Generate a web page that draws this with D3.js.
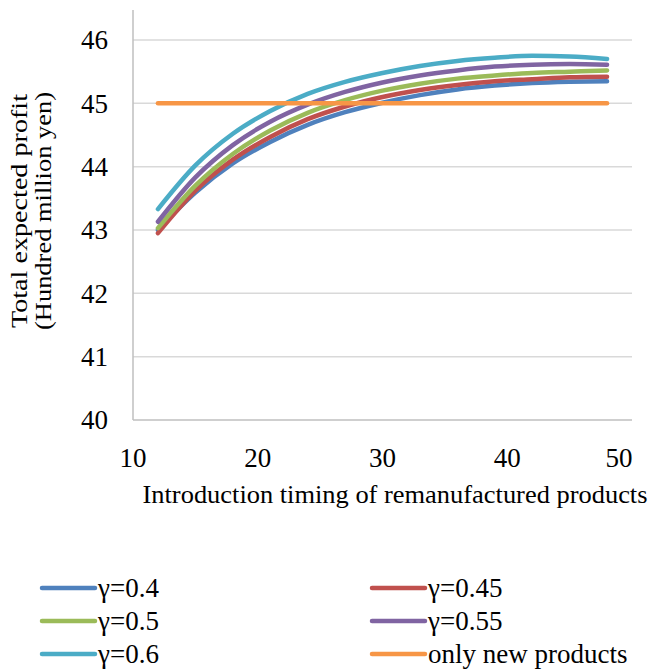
<!DOCTYPE html>
<html>
<head>
<meta charset="utf-8">
<script src="https://cdn.jsdelivr.net/npm/d3@7"></script>
<style>
  body { margin: 0; background: #fff; }
</style>
</head>
<body>
<script>
// introduction timing (x) and total expected profit for each gamma
const timing = [12, 15, 18, 21, 24, 27, 30, 33, 36, 39, 42, 45, 48]
const g040 = [43.00, 43.59, 44.05, 44.39, 44.66, 44.86, 45.01, 45.13, 45.22, 45.28, 45.32, 45.34, 45.35]
const g045 = [42.95, 43.62, 44.11, 44.47, 44.75, 44.95, 45.10, 45.21, 45.29, 45.35, 45.38, 45.41, 45.42]
const g050 = [43.03, 43.70, 44.20, 44.57, 44.85, 45.05, 45.20, 45.31, 45.39, 45.44, 45.48, 45.50, 45.52]
const g055 = [43.13, 43.83, 44.34, 44.71, 44.98, 45.18, 45.33, 45.44, 45.52, 45.58, 45.61, 45.62, 45.61]
const g060 = [43.33, 44.02, 44.52, 44.88, 45.15, 45.34, 45.48, 45.59, 45.67, 45.72, 45.75, 45.74, 45.70]
const onlyNew = [45, 45, 45, 45, 45, 45, 45, 45, 45, 45, 45, 45, 45]

const seriesNames = ['γ=0.4', 'γ=0.45', 'γ=0.5', 'γ=0.55', 'γ=0.6', 'only new products']
const seriesValues = [g040, g045, g050, g055, g060, onlyNew]
const colors = ['#4F81BD', '#C0504D', '#9BBB59', '#8064A2', '#4BACC6', '#F79646']

const xTicks = [10, 20, 30, 40, 50]
const yTicks = [40, 41, 42, 43, 44, 45, 46]

const m = {
    width: 652,
    height: 671,
    left: 133,
    right: 632,
    top: 10,
    bottom: 420
}

const serif = '"Liberation Serif", "Times New Roman", Times, serif'

const svg = d3.select('body').append('svg')
    .attr('width', m.width)
    .attr('height', m.height)
    .style('font-family', serif)

const x = d3.scaleLinear().domain([10, 50]).range([m.left, m.right])
const y = d3.scaleLinear().domain([40, 46]).range([m.bottom, 40])

// gridlines
svg.append('g')
    .selectAll('line')
    .data(yTicks.slice(1))
    .enter()
    .append('line')
        .attr('x1', m.left)
        .attr('x2', m.right)
        .attr('y1', d => y(d))
        .attr('y2', d => y(d))
        .attr('stroke', '#d9d9d9')
        .attr('stroke-width', 1.5)

// axis lines
svg.append('line')
    .attr('x1', m.left).attr('x2', m.left)
    .attr('y1', m.top).attr('y2', m.bottom)
    .attr('stroke', '#bfbfbf').attr('stroke-width', 1.5)
svg.append('line')
    .attr('x1', m.left).attr('x2', m.right)
    .attr('y1', m.bottom).attr('y2', m.bottom)
    .attr('stroke', '#bfbfbf').attr('stroke-width', 1.5)

// tick labels
svg.append('g')
    .selectAll('text')
    .data(yTicks)
    .enter()
    .append('text')
        .attr('x', 108)
        .attr('y', d => y(d))
        .attr('dy', '0.35em')
        .attr('text-anchor', 'end')
        .attr('font-size', 27)
        .text(d => d)

svg.append('g')
    .selectAll('text')
    .data(xTicks)
    .enter()
    .append('text')
        .attr('x', d => d === 50 ? x(d) - 13 : x(d))
        .attr('y', 467)
        .attr('text-anchor', 'middle')
        .attr('font-size', 27)
        .text(d => d)

// axis titles
svg.append('text')
    .attr('x', 395)
    .attr('y', 503)
    .attr('text-anchor', 'middle')
    .attr('font-size', 26)
    .attr('textLength', 505)
    .attr('lengthAdjust', 'spacingAndGlyphs')
    .text('Introduction timing of remanufactured products')

const yTitle = svg.append('g')
    .attr('transform', 'translate(0,211) rotate(-90)')
yTitle.append('text')
    .attr('x', 0).attr('y', 27)
    .attr('text-anchor', 'middle')
    .attr('font-size', 23)
    .attr('textLength', 234)
    .attr('lengthAdjust', 'spacingAndGlyphs')
    .text('Total expected profit')
yTitle.append('text')
    .attr('x', 0).attr('y', 51)
    .attr('text-anchor', 'middle')
    .attr('font-size', 23)
    .attr('textLength', 238)
    .attr('lengthAdjust', 'spacingAndGlyphs')
    .text('(Hundred million yen)')

// series lines
const line = d3.line()
    .x((d, i) => x(timing[i]))
    .y(d => y(d))
    .curve(d3.curveMonotoneX)

svg.append('g')
    .selectAll('path')
    .data(seriesValues)
    .enter()
    .append('path')
        .attr('d', line)
        .attr('fill', 'none')
        .attr('stroke', (d, i) => colors[i])
        .attr('stroke-width', 4.5)
        .attr('stroke-linecap', 'round')

// legend, two columns
const legend = svg.append('g')
    .selectAll('g')
    .data(seriesNames)
    .enter()
    .append('g')
        .attr('transform', (d, i) => 'translate(' + (i % 2 === 0 ? 42 : 372) + ',' + (588 + Math.floor(i / 2) * 33) + ')')

legend.append('line')
    .attr('x1', 0).attr('x2', 53)
    .attr('y1', 0).attr('y2', 0)
    .attr('stroke', (d, i) => colors[i])
    .attr('stroke-width', 4.5)
    .attr('stroke-linecap', 'round')

legend.append('text')
    .attr('x', 56)
    .attr('y', 0)
    .attr('dy', '0.35em')
    .attr('font-size', 27)
    .text(d => d)
</script>
</body>
</html>
